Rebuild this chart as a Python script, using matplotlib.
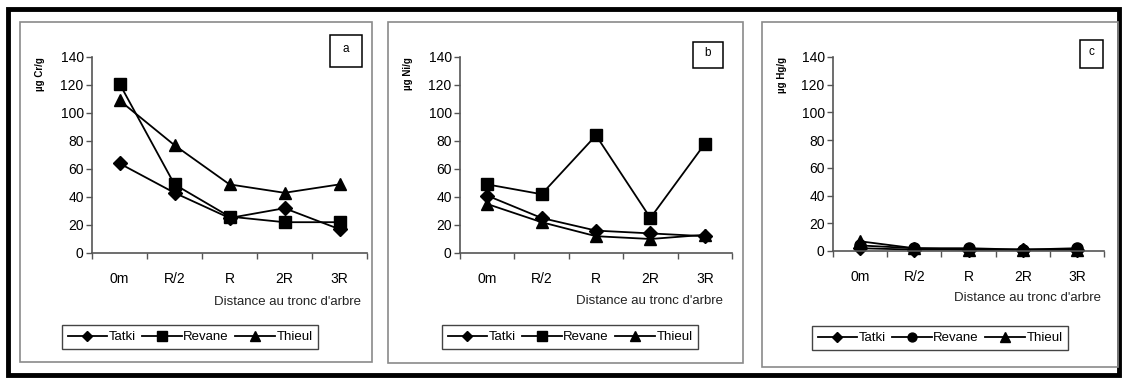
import matplotlib
matplotlib.use("Agg")
import matplotlib.pyplot as plt
from matplotlib import font_manager
from matplotlib.patches import Rectangle
from matplotlib.lines import Line2D

# Distances from the tree trunk
categories = ["0m", "R/2", "R", "2R", "3R"]
sites = ["Tatki", "Revane", "Thieul"]

# Panel a: chromium
cr_tatki = [64, 43, 25, 32, 17]
cr_revane = [121, 49, 26, 22, 22]
cr_thieul = [109, 77, 49, 43, 49]

# Panel b: nickel
ni_tatki = [41, 25, 16, 14, 12]
ni_revane = [49, 42, 84, 25, 78]
ni_thieul = [35, 22, 12, 10, 13]

# Panel c: mercury
hg_tatki = [2, 1, 1, 1, 1]
hg_revane = [4, 2, 2, 1, 2]
hg_thieul = [7, 2, 1, 1, 1]

panel_letters = ["a", "b", "c"]
y_labels = ["µg Cr/g", "µg Ni/g", "µg Hg/g"]
y_ticks = [0, 20, 40, 60, 80, 100, 120, 140]
x_title = "Distance au tronc d'arbre"

names = {f.name for f in font_manager.fontManager.ttflist}
font = "Liberation Sans Narrow" if "Liberation Sans Narrow" in names else "Liberation Sans"
plt.rcParams["font.family"] = [font, "DejaVu Sans"]

W, H = 1126, 378
fig = plt.figure(figsize=(W / 100, H / 100), dpi=100)


def fx(px):
    return px / W


def fy(py):
    return 1 - py / H


# outer black frame
fig.add_artist(Rectangle((fx(8), fy(375)), fx(1119) - fx(8), fy(9) - fy(375),
                         transform=fig.transFigure, fill=False, lw=3.5,
                         edgecolor="black"))

panels = [
    dict(frame=(20, 22, 372, 362), ax=(92, 57, 367, 253), legend=(190, 337),
         xlabel=(287, 302), box=(330, 35, 362, 67), rev_marker="s",
         data=(cr_tatki, cr_revane, cr_thieul)),
    dict(frame=(388, 22, 743, 363), ax=(460, 57, 732, 253), legend=(570, 337),
         xlabel=(650, 301), box=(693, 42, 723, 68), rev_marker="s",
         data=(ni_tatki, ni_revane, ni_thieul)),
    dict(frame=(762, 22, 1118, 367), ax=(833, 57, 1104, 251), legend=(940, 338),
         xlabel=(1027, 298), box=(1080, 40, 1103, 68), rev_marker="o",
         data=(hg_tatki, hg_revane, hg_thieul)),
]

line_kw = dict(color="black", lw=1.3)
marker_sizes = {"D": 7, "s": 8.5, "o": 8, "^": 9}

for i, p in enumerate(panels):
    x0, y0, x1, y1 = p["frame"]
    fig.add_artist(Rectangle((fx(x0), fy(y1)), fx(x1) - fx(x0), fy(y0) - fy(y1),
                             transform=fig.transFigure, fill=False, lw=1.2,
                             edgecolor="#8a8a8a"))

    ax0, ay0, ax1, ay1 = p["ax"]
    ax = fig.add_axes([fx(ax0), fy(ay1), fx(ax1) - fx(ax0), fy(ay0) - fy(ay1)])
    xs = list(range(len(categories)))
    markers = ["D", p["rev_marker"], "^"]
    for vals, m in zip(p["data"], markers):
        ax.plot(xs, vals, marker=m, ms=marker_sizes[m], mfc="black", mec="black",
                clip_on=False, **line_kw)

    ax.set_xlim(-0.5, len(categories) - 0.5)
    ax.set_ylim(0, 140)
    ax.set_yticks(y_ticks)
    ax.set_yticklabels([str(v) for v in y_ticks], fontsize=10)
    ax.set_xticks(xs)
    ax.set_xticklabels(categories, fontsize=10)
    ax.set_xticks([x - 0.5 for x in range(len(categories) + 1)], minor=True)
    ax.tick_params(axis="x", which="major", length=0, pad=14)
    ax.tick_params(axis="x", which="minor", length=4, direction="out",
                   color="#555555", width=1)
    ax.tick_params(axis="y", length=4, direction="out", color="#555555",
                   width=1, pad=2)
    for s in ("top", "right"):
        ax.spines[s].set_visible(False)
    for s in ("left", "bottom"):
        ax.spines[s].set_color("#555555")
        ax.spines[s].set_linewidth(1.2)
    ax.patch.set_alpha(0)

    # y-axis unit label
    ax.text(-0.19, 1.0, y_labels[i], transform=ax.transAxes, rotation=90,
            ha="center", va="top", fontsize=7, fontweight="bold")

    # x-axis title
    lx, ly = p["xlabel"]
    fig.text(fx(lx), fy(ly), x_title, ha="center", va="center", fontsize=9.5,
             color="#222222")

    # panel letter box
    bx0, by0, bx1, by1 = p["box"]
    fig.add_artist(Rectangle((fx(bx0), fy(by1)), fx(bx1) - fx(bx0), fy(by0) - fy(by1),
                             transform=fig.transFigure, fill=False, lw=1.1,
                             edgecolor="black"))
    fig.text(fx((bx0 + bx1) / 2), fy((by0 + by1) / 2 - 2), panel_letters[i],
             ha="center", va="center", fontsize=8.5)

    # legend
    handles = [Line2D([], [], marker=m, ms=marker_sizes[m] * 0.8, mfc="black",
                      mec="black", **line_kw) for m in markers]
    lgx, lgy = p["legend"]
    fig.legend(handles, sites, loc="center", bbox_to_anchor=(fx(lgx), fy(lgy)),
               ncol=3, frameon=True, fancybox=False, edgecolor="#444444",
               fontsize=9.5, handlelength=3.0, handletextpad=0.1,
               columnspacing=0.5, borderpad=0.45, framealpha=1)

fig.savefig("out.png", dpi=100)
